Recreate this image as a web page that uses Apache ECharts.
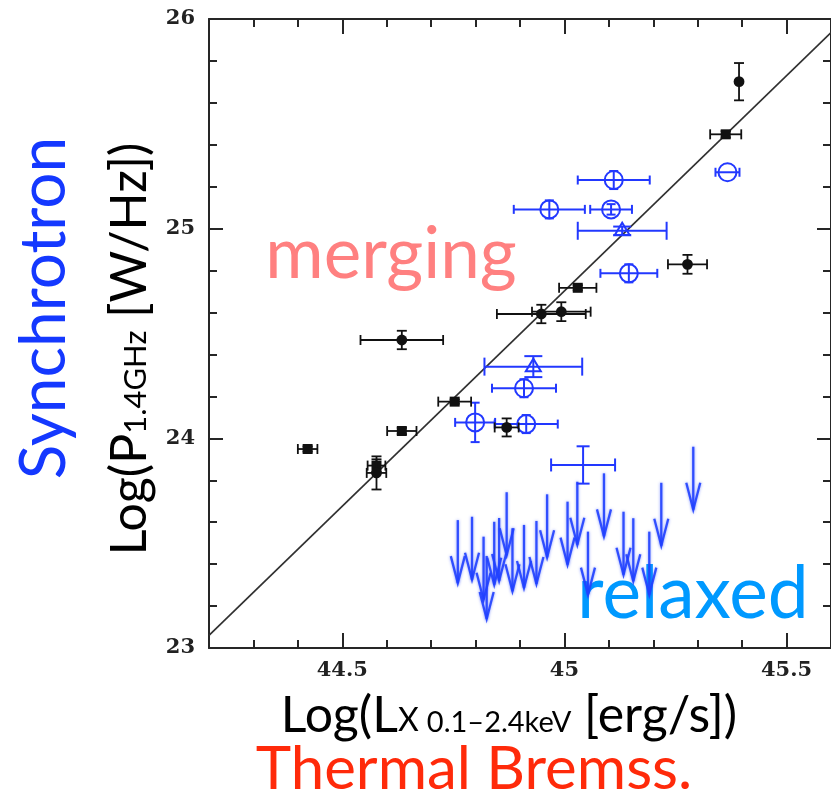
<!DOCTYPE html>
<html>
<head>
<meta charset="utf-8">
<title>Radio power vs X-ray luminosity</title>
<script src="https://cdn.jsdelivr.net/npm/echarts@6/dist/echarts.min.js"></script>
<style>
  html, body { margin: 0; padding: 0; background: #fff; }
  #chart { width: 831px; height: 792px; }
</style>
</head>
<body>
<div id="chart"></div>
<script>
// Best-fit correlation, log P(1.4 GHz) vs log L_X
const fitX = [44.2, 45.6];
const fitY = [23.06, 25.935];

// Giant radio halos (filled black symbols)
const haloX     = [45.393, 45.363, 45.277, 45.030, 44.948, 44.993, 44.634, 44.753, 44.634, 44.422, 44.577, 44.577, 44.870];
const haloY     = [25.701, 25.450, 24.830, 24.718, 24.593, 24.604, 24.469, 24.175, 24.035, 23.949, 23.870, 23.835, 24.052];
const haloXErr  = [0.000, 0.035, 0.044, 0.042, 0.100, 0.066, 0.093, 0.037, 0.033, 0.022, 0.020, 0.022, 0.027];
const haloYErr  = [0.089, 0.015, 0.045, 0.012, 0.044, 0.045, 0.044, 0.010, 0.015, 0.012, 0.030, 0.079, 0.043];
const haloShape = ['circle', 'square', 'circle', 'square', 'circle', 'circle', 'circle', 'square', 'square', 'square', 'square', 'circle', 'circle'];

// Additional halos (open blue symbols)
const newX     = [45.111, 44.966, 45.105, 45.130, 45.367, 45.145, 44.930, 44.909, 44.799, 44.914, 45.042];
const newY     = [25.232, 25.092, 25.092, 24.990, 25.269, 24.787, 24.342, 24.239, 24.076, 24.068, 23.873];
const newXErr  = [0.081, 0.080, 0.047, 0.100, 0.027, 0.064, 0.110, 0.072, 0.045, 0.071, 0.072];
const newYErr  = [0.043, 0.043, 0.025, 0.020, 0.000, 0.043, 0.050, 0.043, 0.094, 0.043, 0.089];
const newShape = ['circle', 'circle', 'circle', 'triangle', 'circle', 'circle', 'triangle', 'circle', 'circle', 'circle', 'none'];

// Upper limits on radio power (arrows)
const limX = [44.760, 44.792, 44.818, 44.825, 44.842, 44.853, 44.870, 44.883, 44.909, 44.937,
              44.961, 45.007, 45.029, 45.053, 45.089, 45.133, 45.155, 45.191, 45.218, 45.290];
const limY = [23.610, 23.626, 23.531, 23.439, 23.602, 23.620, 23.743, 23.571, 23.587, 23.606,
              23.733, 23.698, 23.793, 23.555, 23.833, 23.650, 23.619, 23.555, 23.788, 23.960];

// Tick labels
const xTickLabels = [44.5, 45, 45.5];
const yTickLabels = [23, 24, 25, 26];

const AXIS = '#262626';
const BLACK = '#111111';
const BLUE = '#2238ff';
const ARROW = '#2040ff';

function seg(x1, y1, x2, y2, stroke, w) {
  return { type: 'line', shape: { x1, y1, x2, y2 }, style: { stroke, lineWidth: w, fill: 'none' } };
}

function errorBars(c, api, x, y, ex, ey, stroke, capX, capY, w) {
  const out = [];
  if (ex > 0) {
    const l = api.coord([x - ex, y]), r = api.coord([x + ex, y]);
    out.push(seg(l[0], c[1], r[0], c[1], stroke, w));
    out.push(seg(l[0], c[1] - capX, l[0], c[1] + capX, stroke, w));
    out.push(seg(r[0], c[1] - capX, r[0], c[1] + capX, stroke, w));
  }
  if (ey > 0) {
    const t = api.coord([x, y + ey]), b = api.coord([x, y - ey]);
    out.push(seg(c[0], t[1], c[0], b[1], stroke, w));
    out.push(seg(c[0] - capY, t[1], c[0] + capY, t[1], stroke, w));
    out.push(seg(c[0] - capY, b[1], c[0] + capY, b[1], stroke, w));
  }
  return out;
}

function renderHalo(params, api) {
  const x = api.value(0), y = api.value(1);
  const c = api.coord([x, y]);
  const children = errorBars(c, api, x, y, api.value(2), api.value(3), BLACK, 5, 5, 1.8);
  if (haloShape[params.dataIndex] === 'square') {
    children.push({ type: 'rect', shape: { x: c[0] - 5, y: c[1] - 5, width: 10, height: 10 }, style: { fill: BLACK } });
  } else {
    children.push({ type: 'circle', shape: { cx: c[0], cy: c[1], r: 5.4 }, style: { fill: BLACK } });
  }
  return { type: 'group', children };
}

function renderNew(params, api) {
  const x = api.value(0), y = api.value(1);
  const c = api.coord([x, y]);
  const shape = newShape[params.dataIndex];
  const cap = shape === 'triangle' ? 9 : (shape === 'none' ? 6.5 : 4.5);
  const children = errorBars(c, api, x, y, api.value(2), api.value(3), BLUE, cap, cap, 2);
  if (shape === 'circle') {
    children.push({ type: 'circle', shape: { cx: c[0], cy: c[1], r: 9 }, style: { fill: 'none', stroke: BLUE, lineWidth: 2 } });
  } else if (shape === 'triangle') {
    children.push({
      type: 'polygon',
      shape: { points: [[c[0] - 7.5, c[1] + 4.5], [c[0] + 7.5, c[1] + 4.5], [c[0], c[1] - 8]] },
      style: { fill: 'none', stroke: BLUE, lineWidth: 2 }
    });
  }
  return { type: 'group', children };
}

function renderLimit(params, api) {
  const c = api.coord([api.value(0), api.value(1)]);
  const tipY = c[1] + 63;
  const st = {
    stroke: ARROW, fill: 'none', lineWidth: 2.3, opacity: 0.9,
    shadowBlur: 3, shadowColor: 'rgba(40,70,255,0.6)', lineJoin: 'miter'
  };
  return {
    type: 'group',
    children: [
      { type: 'line', shape: { x1: c[0], y1: c[1], x2: c[0], y2: tipY }, style: st },
      { type: 'polyline', shape: { points: [[c[0] - 7, tipY - 27], [c[0], tipY], [c[0] + 7, tipY - 27]] }, style: st }
    ]
  };
}

const tickLabelStyle = {
  fontFamily: 'DejaVu Serif',
  fontWeight: 'bold',
  fontSize: 21,
  color: '#222'
};

function xAxisDef(position, major, withLabels) {
  return {
    type: 'value', min: 44.2, max: 45.6, position,
    interval: major ? undefined : 0.1,
    axisLine: { show: !major, onZero: false, lineStyle: { color: AXIS, width: 2 } },
    axisTick: major
      ? { show: true, inside: true, length: 15, customValues: xTickLabels, lineStyle: { color: AXIS, width: 2 } }
      : { show: true, inside: true, length: 8, lineStyle: { color: AXIS, width: 2 } },
    axisLabel: withLabels
      ? Object.assign({ show: true, margin: 12, customValues: xTickLabels, formatter: v => String(v) }, tickLabelStyle)
      : { show: false },
    splitLine: { show: false }
  };
}

function yAxisDef(position, major, withLabels) {
  return {
    type: 'value', min: 23, max: 26, position,
    interval: major ? undefined : 0.2,
    axisLine: { show: !major, onZero: false, lineStyle: { color: AXIS, width: 2 } },
    axisTick: major
      ? { show: true, inside: true, length: 14, customValues: yTickLabels, lineStyle: { color: AXIS, width: 2 } }
      : { show: true, inside: true, length: 8, lineStyle: { color: AXIS, width: 2 } },
    axisLabel: withLabels
      ? Object.assign({ show: true, margin: 14, customValues: yTickLabels, formatter: v => String(v) }, tickLabelStyle)
      : { show: false },
    splitLine: { show: false }
  };
}

const chart = echarts.init(document.getElementById('chart'), null, { renderer: 'canvas' });

chart.setOption({
  animation: false,
  backgroundColor: '#ffffff',
  grid: { left: 209, top: 19, width: 627.2, height: 629 },
  xAxis: [
    xAxisDef('bottom', false, true),
    xAxisDef('bottom', true, false),
    xAxisDef('top', false, false),
    xAxisDef('top', true, false)
  ],
  yAxis: [
    yAxisDef('left', false, true),
    yAxisDef('left', true, false),
    yAxisDef('right', false, false),
    yAxisDef('right', true, false)
  ],
  series: [
    {
      type: 'line', name: 'fit',
      data: fitX.map((x, i) => [x, fitY[i]]),
      showSymbol: false, symbol: 'none', silent: true,
      lineStyle: { color: '#303030', width: 1.7 },
      z: 1
    },
    {
      type: 'custom', name: 'upper limits',
      data: limX.map((x, i) => [x, limY[i]]),
      encode: { x: 0, y: 1 },
      renderItem: renderLimit,
      z: 2
    },
    {
      type: 'custom', name: 'new halos',
      data: newX.map((x, i) => [x, newY[i], newXErr[i], newYErr[i]]),
      dimensions: ['x', 'y', 'ex', 'ey'],
      encode: { x: 0, y: 1 },
      renderItem: renderNew,
      z: 3
    },
    {
      type: 'custom', name: 'giant halos',
      data: haloX.map((x, i) => [x, haloY[i], haloXErr[i], haloYErr[i]]),
      dimensions: ['x', 'y', 'ex', 'ey'],
      encode: { x: 0, y: 1 },
      renderItem: renderHalo,
      z: 4
    }
  ],
  graphic: [
    {
      type: 'text', x: 44, y: 308, rotation: Math.PI / 2,
      style: { text: 'Synchrotron', fontFamily: 'Lato', fontSize: 64, fill: '#1438ff', align: 'center', verticalAlign: 'middle' }
    },
    {
      type: 'text', x: 130, y: 349, rotation: Math.PI / 2,
      style: {
        text: '{a|Log(P}{b|1.4GHz}{a| [W/Hz])}',
        align: 'center', verticalAlign: 'middle',
        rich: {
          a: { fontFamily: 'Lato', fontSize: 50, fill: '#000', verticalAlign: 'bottom' },
          b: { fontFamily: 'Lato', fontSize: 31, fill: '#000', verticalAlign: 'bottom', padding: [0, 0, 4, 0] }
        }
      }
    },
    {
      type: 'text', x: 509, y: 716,
      style: {
        text: '{a|Log(L}{b|X }{c|0.1\u20132.4keV}{a| [erg/s])}',
        align: 'center', verticalAlign: 'middle',
        rich: {
          a: { fontFamily: 'Lato', fontSize: 50, fill: '#000', verticalAlign: 'bottom' },
          b: { fontFamily: 'Lato', fontSize: 32, fill: '#000', verticalAlign: 'bottom', padding: [0, 0, 4, 0] },
          c: { fontFamily: 'Lato', fontSize: 29, fill: '#000', verticalAlign: 'bottom', padding: [0, 0, 4, 0] }
        }
      }
    },
    {
      type: 'text', x: 474, y: 770,
      style: { text: 'Thermal Bremss.', fontFamily: 'Lato', fontSize: 60, fill: '#ff2a0a', align: 'center', verticalAlign: 'middle' }
    },
    {
      type: 'text', x: 391, y: 255,
      style: { text: 'merging', fontFamily: 'Lato', fontSize: 71, fill: '#ff8080', align: 'center', verticalAlign: 'middle' }
    },
    {
      type: 'text', x: 693, y: 594,
      style: { text: 'relaxed', fontFamily: 'Lato', fontSize: 73, fill: '#0099ff', align: 'center', verticalAlign: 'middle' }
    }
  ]
});
</script>
</body>
</html>
